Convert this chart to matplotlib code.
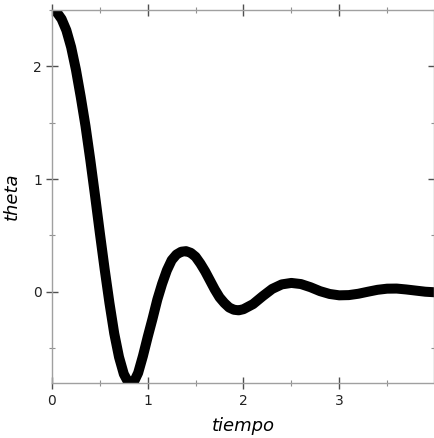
import matplotlib
matplotlib.use("Agg")
import matplotlib.pyplot as plt
from matplotlib.ticker import MultipleLocator

# curve (center of the thick line)
tiempo = [0.00, 0.05, 0.10, 0.15, 0.20, 0.25, 0.30, 0.35, 0.40, 0.45,
          0.50, 0.55, 0.60, 0.65, 0.70, 0.75, 0.80, 0.85, 0.90, 0.95,
          1.00, 1.05, 1.10, 1.15, 1.20, 1.25, 1.30, 1.35, 1.40, 1.45,
          1.50, 1.55, 1.60, 1.65, 1.70, 1.75, 1.80, 1.85, 1.90, 1.95,
          2.00, 2.10, 2.20, 2.30, 2.40, 2.50, 2.60, 2.70, 2.80, 2.90,
          3.00, 3.10, 3.20, 3.30, 3.40, 3.50, 3.60, 3.70, 3.80, 3.90, 4.00]
theta = [2.50, 2.48, 2.42, 2.32, 2.17, 1.97, 1.73, 1.47, 1.17, 0.85,
         0.52, 0.20, -0.10, -0.37, -0.58, -0.73, -0.81, -0.81, -0.72, -0.57,
         -0.40, -0.24, -0.07, 0.07, 0.19, 0.28, 0.33, 0.355, 0.36, 0.345,
         0.31, 0.25, 0.18, 0.10, 0.02, -0.05, -0.10, -0.14, -0.16, -0.165,
         -0.155, -0.11, -0.04, 0.025, 0.065, 0.078, 0.068, 0.04, 0.005, -0.02,
         -0.032, -0.03, -0.018, 0.0, 0.017, 0.027, 0.028, 0.02, 0.01, 0.0, -0.005]

fig = plt.figure(figsize=(4.35, 4.38), dpi=100)
ax = fig.add_axes([52 / 435, 1 - 383 / 438, 382 / 435, 373 / 438])

ax.plot(tiempo, theta, color="black", lw=7.2,
        solid_capstyle="butt", solid_joinstyle="round")
ax.set_xlim(0, 3.99)
ax.set_ylim(-0.81, 2.5)

frame = "#a0a0a0"
for s in ax.spines.values():
    s.set_color(frame)
    s.set_linewidth(1.0)

ax.xaxis.set_major_locator(MultipleLocator(1))
ax.xaxis.set_minor_locator(MultipleLocator(0.5))
ax.yaxis.set_major_locator(MultipleLocator(1))
ax.yaxis.set_minor_locator(MultipleLocator(0.5))
ax.tick_params(which="major", direction="inout", length=8.5, width=1.0,
               color="#505050", top=True, right=True, labelsize=10,
               labelcolor="#222222")
ax.tick_params(which="minor", direction="inout", length=4, width=0.8,
               color="#909090", top=True, right=True)
ax.tick_params(axis="x", pad=4)
ax.tick_params(axis="y", pad=3)

ax.set_xlabel("tiempo", fontsize=13, style="italic", labelpad=6)
ax.set_ylabel("theta", fontsize=13, style="italic", labelpad=9)

fig.savefig("out.png", dpi=100)
